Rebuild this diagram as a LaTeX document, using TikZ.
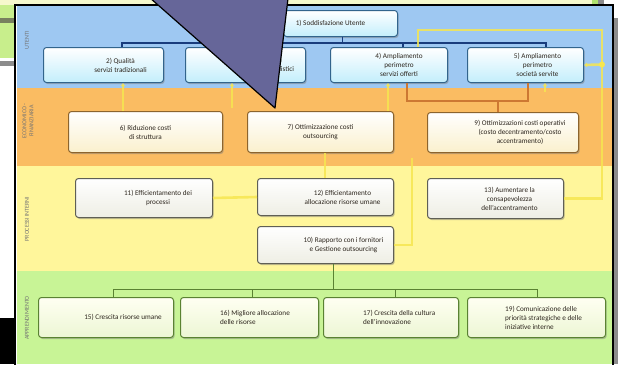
\documentclass[tikz,border=0pt]{standalone}
\usepackage{fontspec}
\setmainfont{Carlito}
\usetikzlibrary{shadows, arrows.meta}

\definecolor{bandblue}{RGB}{158,200,242}
\definecolor{bandorange}{RGB}{250,188,98}
\definecolor{bandyellow}{RGB}{255,246,155}
\definecolor{bandgreen}{RGB}{200,244,150}
\definecolor{edgeblue}{RGB}{50,100,140}
\definecolor{edgebrown}{RGB}{140,100,45}
\definecolor{edgegray}{RGB}{95,95,85}
\definecolor{edgegreen}{RGB}{90,130,50}
\definecolor{userfill}{RGB}{195,238,252}
\definecolor{costfill}{RGB}{250,240,205}
\definecolor{procfill}{RGB}{238,238,228}
\definecolor{learntop}{RGB}{255,255,242}
\definecolor{learnfill}{RGB}{236,246,212}
\definecolor{busblue}{RGB}{25,60,125}
\definecolor{feedyellow}{RGB}{246,230,80}
\definecolor{bracketorange}{RGB}{205,120,50}
\definecolor{callout}{RGB}{102,102,153}
\definecolor{lblgray}{RGB}{115,115,115}
\definecolor{txt}{RGB}{45,38,30}
\definecolor{slidetop}{RGB}{246,248,205}
\definecolor{slidegreen}{RGB}{200,238,140}
\definecolor{slideolive}{RGB}{120,128,95}
\definecolor{slidegray}{RGB}{140,140,140}
\definecolor{slidelime}{RGB}{175,225,110}

\begin{document}
\begin{tikzpicture}[x=1pt,y=-1pt,
  tile/.style={anchor=north west, inner sep=0pt, rounded corners=3pt, line width=1pt,
    drop shadow={shadow xshift=1.2pt, shadow yshift=-1.5pt, opacity=.45}},
  usertile/.style={tile, draw=edgeblue, top color=white, bottom color=userfill},
  costtile/.style={tile, draw=edgebrown, top color=white, bottom color=costfill},
  proctile/.style={tile, draw=edgegray, top color=white, bottom color=procfill},
  learntile/.style={tile, draw=edgegreen, top color=learntop, bottom color=learnfill},
  tiletext/.style={font=\fontsize{7.2}{9}\selectfont, text=txt, inner sep=0pt, align=center},
  bandlbl/.style={rotate=90, font=\fontsize{6}{7}\selectfont, text=lblgray, align=center, inner sep=0pt},
  bus/.style={draw=busblue, line width=1.6pt},
  feed/.style={draw=feedyellow, line width=2.6pt, opacity=.85},
  bracket/.style={draw=bracketorange, line width=1.6pt},
  tree/.style={draw=edgegreen, line width=1pt}]
\useasboundingbox (0,0) rectangle (618,364);
\begin{scope}
\clip (0,0) rectangle (618,364);

% slide behind the diagram
\fill[white] (0,0) rectangle (618,364);
\fill[slidetop] (0,0) rectangle (598,5);
\fill[slidegreen] (0,5) rectangle (15,58);
\fill[slideolive] (0,18) rectangle (15,23);
\fill[slidegray] (0,61) rectangle (15,66);
\fill[black] (0,318) rectangle (15,364);
\fill[slidelime] (592,0) rectangle (598,6);
\fill[slidegray] (598,0) rectangle (604,6);
\fill[slidegray] (613,18) rectangle (618,364);

% bands
\fill[bandblue] (17,6) rectangle (612,88);
\fill[bandorange] (17,88) rectangle (612,166);
\fill[bandyellow] (17,166) rectangle (612,271);
\fill[bandgreen] (17,271) rectangle (612,364);
\draw[black, line width=1.6pt] (15,368) -- (15,5) -- (613,5) -- (613,368);

\node[bandlbl] (lu) at (27,40) {UTENTI};
\node[bandlbl] (le) at (28,121) {ECONOMICO -\\FINANZIARIA};
\node[bandlbl] (lp) at (27,219) {PROCESSI INTERNI};
\node[bandlbl] (la) at (27,318) {APPRENDIMENTO};

% utenti
\node[usertile, minimum width=114pt, minimum height=26pt] (b1) at (283,10) {};
\node[usertile, minimum width=120pt, minimum height=35pt] (b2) at (43,47) {};
\node[usertile, minimum width=120pt, minimum height=35pt] (b3) at (185,47) {};
\node[usertile, minimum width=117pt, minimum height=35pt] (b4) at (330,47) {};
\node[usertile, minimum width=116pt, minimum height=35pt] (b5) at (467,47) {};
\node[tiletext] (t1) at ([xshift=-10]b1.center) {1) Soddisfazione Utente};
\node[tiletext] (t2) at ([xshift=17]b2.center) {2) Qualità\\servizi tradizionali};
\node[tiletext] (t3) at ([xshift=22]b3.center) {3) Qualità\\servizi specialistici};
\node[tiletext] (t4) at ([xshift=10]b4.center) {4) Ampliamento\\perimetro\\servizi offerti};
\node[tiletext] (t5) at ([xshift=12]b5.center) {5) Ampliamento\\perimetro\\società servite};

% economico-finanziaria
\node[costtile, minimum width=154pt, minimum height=41pt] (b6) at (68,111) {};
\node[costtile, minimum width=146pt, minimum height=41pt] (b7) at (247,111) {};
\node[costtile, minimum width=151pt, minimum height=40pt] (b9) at (427,112) {};
\node[tiletext] (t6) at (b6.center) {6) Riduzione costi\\di struttura};
\node[tiletext] (t7) at (b7.center) {7) Ottimizzazione costi\\outsourcing};
\node[tiletext] (t9) at ([xshift=17]b9.center) {9) Ottimizzazioni costi operativi\\(costo decentramento/costo\\accentramento)};

% processi interni
\node[proctile, minimum width=137pt, minimum height=39pt] (b11) at (75,178) {};
\node[proctile, minimum width=136pt, minimum height=37pt] (b12) at (257,178) {};
\node[proctile, minimum width=136pt, minimum height=37pt] (b10) at (257,226) {};
\node[proctile, minimum width=136pt, minimum height=40pt] (b13) at (427,178) {};
\node[tiletext] (t11) at ([xshift=14]b11.center) {11) Efficientamento dei\\processi};
\node[tiletext] (t12) at ([xshift=17]b12.center) {12) Efficientamento\\allocazione risorse umane};
\node[tiletext] (t10) at ([xshift=18]b10.center) {10) Rapporto con i fornitori\\e Gestione outsourcing};
\node[tiletext] (t13) at ([xshift=14]b13.center) {13) Aumentare la\\consapevolezza\\dell'accentramento};

% apprendimento
\node[learntile, minimum width=135pt, minimum height=40pt] (b15) at (38,297) {};
\node[learntile, minimum width=138pt, minimum height=40pt] (b16) at (180,297) {};
\node[learntile, minimum width=135pt, minimum height=40pt] (b17) at (323,297) {};
\node[learntile, minimum width=138pt, minimum height=40pt] (b19) at (467,297) {};
\node[tiletext] (t15) at ([xshift=17]b15.center) {15) Crescita risorse umane};
\node[tiletext, anchor=west, align=left] (t16) at ([xshift=40]b16.west) {16) Migliore allocazione\\delle risorse};
\node[tiletext, anchor=west, align=left] (t17) at ([xshift=40]b17.west) {17) Crescita della cultura\\dell'innovazione};
\node[tiletext, anchor=west, align=left] (t19) at ([xshift=38]b19.west) {19) Comunicazione delle\\priorità strategiche e delle\\iniziative interne};

% blue tree
\draw[bus] ([xshift=2]b1.south) -- ++(0,7);
\draw[bus] ([xshift=79]b2.north west) -- ++(0,-4) -| ([xshift=79]b5.north west);
\draw[bus] ([xshift=79]b3.north west) -- ++(0,-4);
\draw[bus] ([xshift=73]b4.north west) -- ++(0,-4);

% orange bracket
\draw[bracket] ([xshift=77]b4.south west) -- ++(0,18) -| ([xshift=61]b5.south west);
\coordinate (jb) at (498,100);
\draw[bracket] (jb) -- (jb |- b9.north);

% yellow links
\draw[feed, -{Latex[length=3pt,width=5pt]}] ([xshift=55]b6.north west) -- ([xshift=80]b2.south west);
\coordinate (s3) at (232,108);
\draw[feed, -{Latex[length=3pt,width=5pt]}] (s3) -- (s3 |- b3.south);
\draw[feed, -{Latex[length=3pt,width=5pt]}] ([xshift=141]b7.north west) -- ([xshift=58]b4.south west);
\coordinate (s5) at (545,92);
\draw[feed, -{Latex[length=3pt,width=5pt]}] (s5) -- (s5 |- b5.south);
\draw[feed] (b11.east) -- (b12.west);
\draw[feed] ([xshift=78]b7.south west) -- ([xshift=68]b12.north west);
\coordinate (s10) at (412,158);
\draw[feed] (b10.east) -| (s10);
\coordinate (rt) at (602,30);
\coordinate (rj) at (602,64.5);
\draw[feed] (b13.east) -| (rt) -| ([xshift=88]b4.north west);
\draw[feed, -{Latex[length=3pt,width=5pt]}] (rj) -- (b5.east);
\fill[feedyellow] (rj) circle (3pt);

% green tree
\draw[tree] ([xshift=75]b15.north west) -- ++(0,-8) -| ([xshift=70]b19.north west);
\draw[tree] ([xshift=72]b16.north west) -- ++(0,-8);
\draw[tree] ([xshift=72]b17.north west) -- ++(0,-8);
\draw[tree] ([xshift=76]b10.south west) -- ([xshift=76]b10.south west |- 0,289);

% callout pointer over the slide
\draw[fill=callout, draw=black, line width=1.2pt, line join=round] (141,-10) -- (289,-10) -- (275,108) -- cycle;
\end{scope}
\end{tikzpicture}
\end{document}
